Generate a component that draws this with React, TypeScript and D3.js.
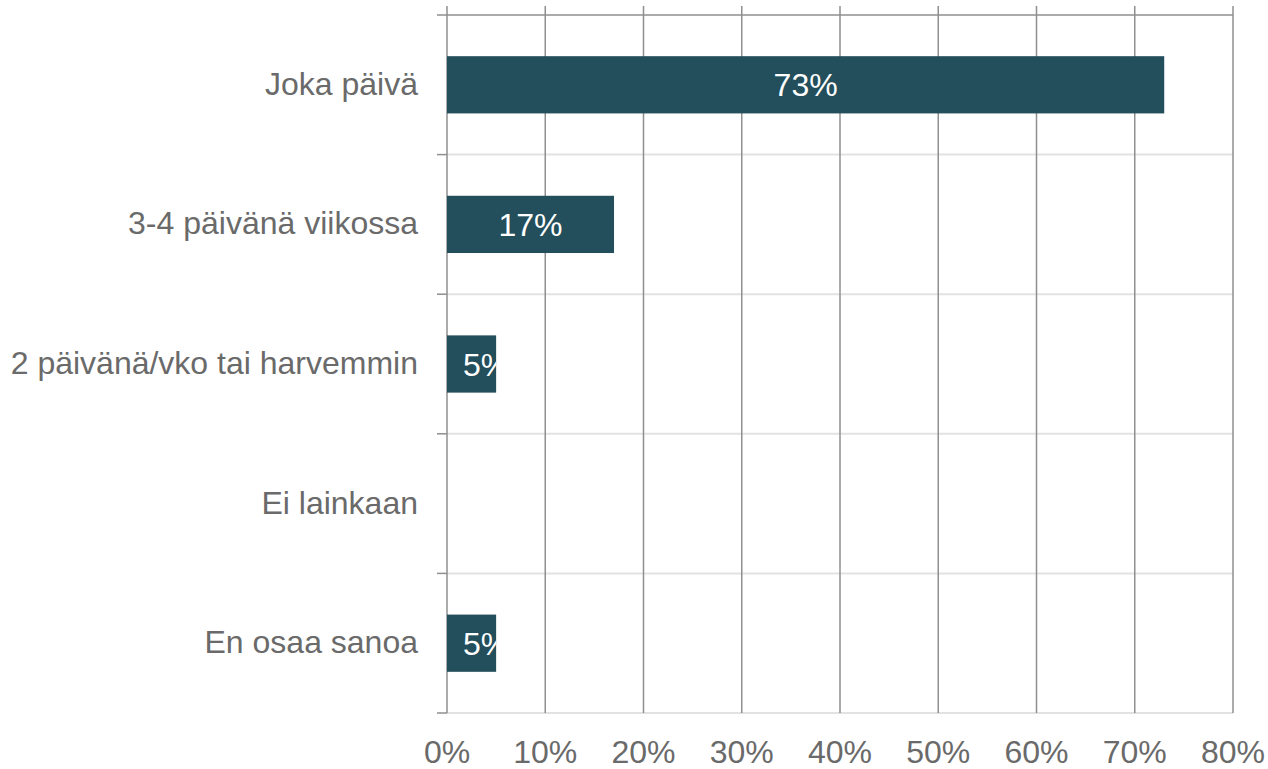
import React from "react";
import * as d3 from "d3";

const categories = ["Joka päivä", "3-4 päivänä viikossa", "2 päivänä/vko tai harvemmin", "Ei lainkaan", "En osaa sanoa"];
const values = [0.73, 0.17, 0.05, 0, 0.05];
const valueLabels = ["73%", "17%", "5%", "", "5%"];
const xTicks = [0, 0.1, 0.2, 0.3, 0.4, 0.5, 0.6, 0.7, 0.8];

const W = 1268;
const H = 769;
const left = 447;
const right = 1233;
const top = 15;
const bottom = 713;

export default function App() {
  const x = d3.scaleLinear().domain([0, 0.8]).range([left, right]);
  const y = d3.scaleBand<string>().domain(categories).range([top, bottom]).padding(0);
  const step = y.step();
  const barH = step * 0.41;
  const font = "Liberation Sans, Arial, sans-serif";
  const fs = 32;
  const boundaries = categories.map((c) => (y(c) as number) + step);
  const fmt = d3.format(".0%");

  return (
    <svg width={W} height={H} style={{ position: "absolute", left: 0, top: 0, background: "#fff" }} fontFamily={font}>
      <defs>
        {categories.map((c, i) => (
          <clipPath id={`clip${i}`} key={c}>
            <rect x={x(0)} y={(y(c) as number) + (step - barH) / 2} width={x(values[i]) - x(0)} height={barH} />
          </clipPath>
        ))}
      </defs>
      {/* horizontal separators */}
      {boundaries.map((b, i) => (
        <line key={"h" + i} x1={left} x2={right} y1={b} y2={b} stroke="#e2e2e2" strokeWidth={2} />
      ))}
      {/* vertical grid */}
      {xTicks.map((t) => (
        <line key={"v" + t} x1={x(t)} x2={x(t)} y1={6} y2={bottom} stroke="#8f8f8f" strokeWidth={1.5} />
      ))}
      {/* top axis line */}
      <line x1={437} x2={right} y1={top} y2={top} stroke="#8f8f8f" strokeWidth={1.5} />
      {/* left ticks */}
      {boundaries.map((b, i) => (
        <line key={"t" + i} x1={437} x2={left} y1={b} y2={b} stroke="#8f8f8f" strokeWidth={1.5} />
      ))}
      {/* bars */}
      {categories.map((c, i) => {
        const y0 = (y(c) as number) + (step - barH) / 2;
        const w = x(values[i]) - x(0);
        if (values[i] <= 0) return null;
        const cx = Math.max(x(0) + w / 2, x(0) + 39);
        return (
          <g key={"b" + c}>
            <rect x={x(0)} y={y0} width={w} height={barH} fill="#234e5b" />
            <text x={cx} y={y0 + barH / 2 + 11.5} textAnchor="middle" fill="#fff" fontSize={fs} clipPath={`url(#clip${i})`}>
              {valueLabels[i]}
            </text>
          </g>
        );
      })}
      {/* category labels */}
      {categories.map((c) => (
        <text key={"c" + c} x={418} y={(y(c) as number) + step / 2 + 10} textAnchor="end" fill="#6a6a6a" fontSize={fs}>
          {c}
        </text>
      ))}
      {/* x tick labels */}
      {xTicks.map((t) => (
        <text key={"xl" + t} x={x(t)} y={763} textAnchor="middle" fill="#6a6a6a" fontSize={fs}>
          {fmt(t)}
        </text>
      ))}
    </svg>
  );
}
